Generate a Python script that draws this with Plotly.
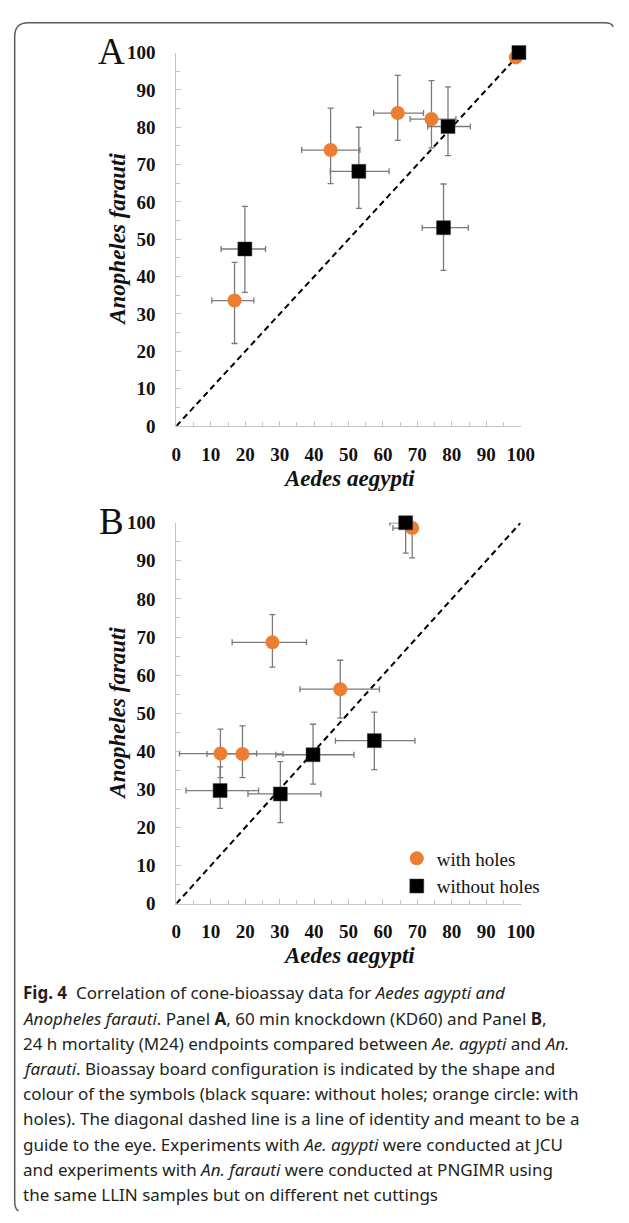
import plotly.graph_objects as go

W, H = 629, 1223

# ---------------- data ----------------
# Panel A: 60 min knockdown (KD60)
a_holes_x = [16.9, 44.8, 64.3, 74.1, 98.6]
a_holes_y = [33.6, 73.9, 83.8, 82.2, 98.7]
a_holes_xm = [6.6, 8.4, 7.0, 6.2, 0]
a_holes_xp = [5.6, 8.5, 7.5, 7.1, 0]
a_holes_ym = [11.5, 9.0, 7.3, 7.7, 0]
a_holes_yp = [10.2, 11.2, 10.1, 10.3, 0]

a_noholes_x = [19.9, 53.0, 77.6, 78.9, 99.5]
a_noholes_y = [47.4, 68.2, 53.1, 80.2, 100.0]
a_noholes_xm = [6.9, 8.3, 6.2, 5.9, 0]
a_noholes_xp = [6.0, 8.8, 7.2, 6.5, 0]
a_noholes_ym = [11.6, 9.9, 11.4, 7.8, 0]
a_noholes_yp = [11.4, 11.8, 11.7, 10.6, 0]

# Panel B: 24 h mortality (M24)
b_holes_x = [12.8, 19.2, 27.9, 47.6, 68.5]
b_holes_y = [39.4, 39.3, 68.6, 56.3, 98.6]
b_holes_xm = [11.9, 10.3, 11.7, 11.7, 5.6]
b_holes_xp = [10.5, 11.8, 9.9, 11.4, 1.0]
b_holes_ym = [6.3, 6.2, 6.5, 7.6, 7.8]
b_holes_yp = [6.4, 7.4, 7.3, 7.6, 0]

b_noholes_x = [12.7, 30.2, 39.7, 57.5, 66.6]
b_noholes_y = [29.7, 28.8, 39.1, 42.8, 100.0]
b_noholes_xm = [9.9, 9.4, 10.8, 11.3, 4.6]
b_noholes_xp = [11.2, 11.8, 11.9, 11.8, 1.5]
b_noholes_ym = [4.7, 7.5, 7.7, 7.6, 8.0]
b_noholes_yp = [6.2, 8.5, 8.0, 7.5, 0]

identity = [0, 100]
tick_vals = [0, 10, 20, 30, 40, 50, 60, 70, 80, 90, 100]
tick_text = [str(v) for v in tick_vals]

series_names = ["with holes", "without holes"]
x_title = "Aedes aegypti"
y_title = "Anopheles farauti"

caption_lines = [
    "<b>Fig. 4</b>  Correlation of cone-bioassay data for <i>Aedes agypti and</i>",
    "<i>Anopheles farauti</i>. Panel <b>A</b>, 60 min knockdown (KD60) and Panel <b>B</b>,",
    "24 h mortality (M24) endpoints compared between <i>Ae. agypti</i> and <i>An.</i>",
    "<i>farauti</i>. Bioassay board configuration is indicated by the shape and",
    "colour of the symbols (black square: without holes; orange circle: with",
    "holes). The diagonal dashed line is a line of identity and meant to be a",
    "guide to the eye. Experiments with <i>Ae. agypti</i> were conducted at JCU",
    "and experiments with <i>An. farauti</i> were conducted at PNGIMR using",
    "the same LLIN samples but on different net cuttings",
]

# ---------------- layout helpers ----------------
def px_x(p):
    return p / W

def px_y(p):
    return 1 - p / H

ORANGE = "#ED7D31"
BLACK = "#000000"
ERR = "#7a7a7a"
SERIF = "Liberation Serif, Times New Roman, serif"

fig = go.Figure()

def add_panel(xa, ya, hx, hy, hxm, hxp, hym, hyp, nx, ny, nxm, nxp, nym, nyp, show_legend):
    fig.add_trace(go.Scatter(
        x=identity, y=identity, mode="lines", xaxis=xa, yaxis=ya,
        line=dict(color="black", width=2, dash="6px,4px"),
        showlegend=False, hoverinfo="skip"))
    fig.add_trace(go.Scatter(
        x=hx, y=hy, mode="markers", xaxis=xa, yaxis=ya, name=series_names[0],
        marker=dict(symbol="circle", size=14, color=ORANGE),
        error_x=dict(type="data", symmetric=False, array=hxp, arrayminus=hxm,
                     color=ERR, thickness=1.3, width=3),
        error_y=dict(type="data", symmetric=False, array=hyp, arrayminus=hym,
                     color=ERR, thickness=1.3, width=3),
        showlegend=show_legend, cliponaxis=False))
    fig.add_trace(go.Scatter(
        x=nx, y=ny, mode="markers", xaxis=xa, yaxis=ya, name=series_names[1],
        marker=dict(symbol="square", size=14, color=BLACK,
                    line=dict(color="#404040", width=0.5)),
        error_x=dict(type="data", symmetric=False, array=nxp, arrayminus=nxm,
                     color=ERR, thickness=1.3, width=3),
        error_y=dict(type="data", symmetric=False, array=nyp, arrayminus=nym,
                     color=ERR, thickness=1.3, width=3),
        showlegend=show_legend, cliponaxis=False))

add_panel("x", "y", a_holes_x, a_holes_y, a_holes_xm, a_holes_xp, a_holes_ym, a_holes_yp,
          a_noholes_x, a_noholes_y, a_noholes_xm, a_noholes_xp, a_noholes_ym, a_noholes_yp, False)
add_panel("x2", "y2", b_holes_x, b_holes_y, b_holes_xm, b_holes_xp, b_holes_ym, b_holes_yp,
          b_noholes_x, b_noholes_y, b_noholes_xm, b_noholes_xp, b_noholes_ym, b_noholes_yp, True)

axis_common = dict(
    range=[0, 100], tickvals=tick_vals, ticktext=tick_text,
    showgrid=False, zeroline=False, showline=True, linecolor="#c4c4c4", linewidth=1,
    ticks="inside", ticklen=5, tickcolor="#c4c4c4", tickwidth=1,
    minor=dict(ticks="inside", ticklen=4, dtick=5, tickcolor="#c4c4c4", showgrid=False),
    tickfont=dict(family=SERIF, size=19, color="#111111", weight="bold"),
    fixedrange=True,
)

# Panel pixel boxes
A_L, A_R, A_T, A_B = 176.7, 531.7, 43.3, 423.3
B_L, B_R, B_T, B_B = 176.7, 531.7, 521.7, 909.3

fig.update_layout(
    width=W, height=H, margin=dict(l=0, r=0, t=0, b=0),
    paper_bgcolor="white", plot_bgcolor="white",
    xaxis=dict(domain=[px_x(A_L), px_x(A_R)], anchor="y", ticklabelstandoff=11, **axis_common),
    yaxis=dict(domain=[px_y(A_B), px_y(A_T)], anchor="x", ticklabelstandoff=16, **axis_common),
    xaxis2=dict(domain=[px_x(B_L), px_x(B_R)], anchor="y2", ticklabelstandoff=11, **axis_common),
    yaxis2=dict(domain=[px_y(B_B), px_y(B_T)], anchor="x2", ticklabelstandoff=16, **axis_common),
    showlegend=True,
    legend=dict(x=px_x(404), y=px_y(844), xanchor="left", yanchor="top",
                font=dict(family=SERIF, size=19, color="#111111"),
                bgcolor="rgba(0,0,0,0)", itemwidth=30, tracegroupgap=0),
)

ann = []
# axis titles
for xc, yc in [((A_L + A_R) / 2, 477), ((B_L + B_R) / 2, 962)]:
    ann.append(dict(x=px_x(xc), y=px_y(yc), xref="paper", yref="paper", text="<b><i>%s</i></b>" % x_title,
                    showarrow=False, xanchor="center", yanchor="middle",
                    font=dict(family=SERIF, size=23, color="#111111")))
for yc in [(A_T + A_B) / 2, (B_T + B_B) / 2]:
    ann.append(dict(x=px_x(116), y=px_y(yc), xref="paper", yref="paper", text="<b><i>%s</i></b>" % y_title,
                    showarrow=False, xanchor="center", yanchor="middle", textangle=-90,
                    font=dict(family=SERIF, size=23, color="#111111")))
# panel letters
for letter, yc in [("A", 42), ("B", 520)]:
    ann.append(dict(x=px_x(109.5), y=px_y(yc), xref="paper", yref="paper", text=letter,
                    showarrow=False, xanchor="center", yanchor="middle",
                    font=dict(family=SERIF, size=37, color="#111111")))
# caption
cap_top = 1000
cap_step = 25.65
for i, line in enumerate(caption_lines):
    ann.append(dict(x=px_x(17), y=px_y(cap_top + i * cap_step), xref="paper", yref="paper", text=line,
                    showarrow=False, xanchor="left", yanchor="middle",
                    font=dict(family="Noto Sans, sans-serif", size=17, color="#231f20")))
fig.update_layout(annotations=ann)

# frame (left + top with rounded corners)
def P(x, y):
    return "%.5f,%.5f" % (px_x(x), px_y(y))

path = ("M " + P(627, 17) + " Q " + P(626, 13) + " " + P(618, 13) +
        " L " + P(24, 13) + " Q " + P(10, 13) + " " + P(10, 27) +
        " L " + P(10, 1212) + " Q " + P(10, 1220) + " " + P(14, 1222))
fig.add_shape(type="path", path=path, xref="paper", yref="paper",
              line=dict(color="#5a5a5a", width=1.5))

fig.write_html("out.html", config={"responsive": False, "displayModeBar": False},
               post_script="document.body.style.margin='0';document.body.style.overflow='hidden';")
